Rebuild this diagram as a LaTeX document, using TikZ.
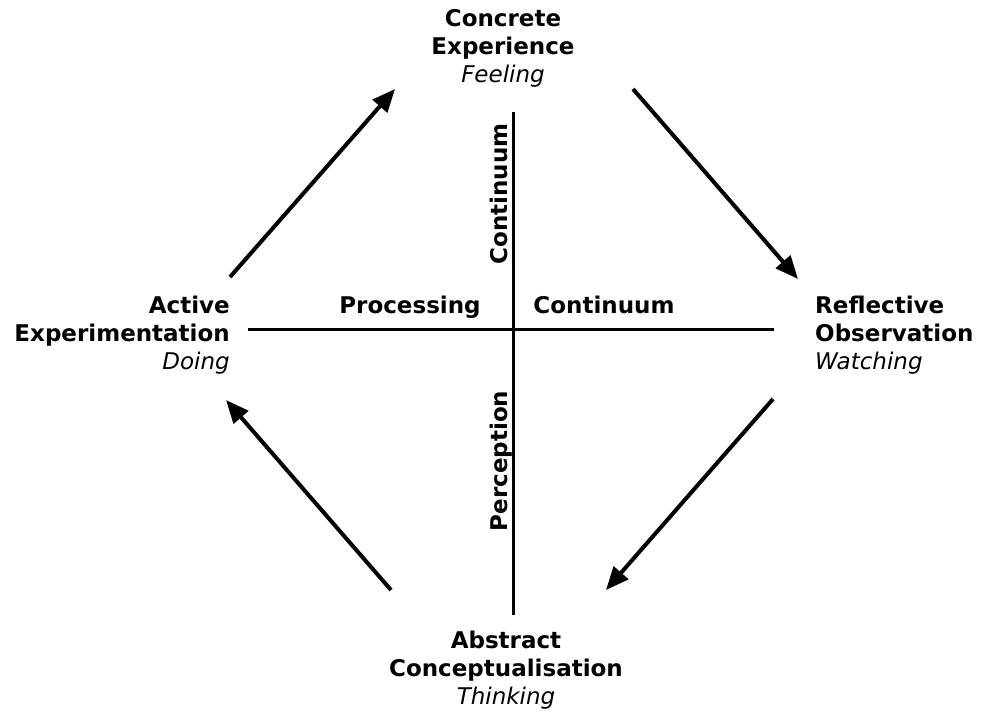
\documentclass[tikz,border=0pt]{standalone}
\usepackage{fontspec}
\setmainfont{DejaVu Sans}
\usepackage{xcolor}
\usepackage{tikz}
\usetikzlibrary{arrows.meta,positioning}
\definecolor{kolbInk}{HTML}{000000}
\tikzset{
  stage/.style={
    inner sep=0pt,
    align=center,
    text=kolbInk,
    font=\fontsize{23}{28}\selectfont
  },
  axislabel/.style={
    inner sep=0pt,
    text=kolbInk,
    font=\fontsize{23}{28}\selectfont\bfseries
  },
  axis/.style={line width=3pt, draw=kolbInk},
  cyclearrow/.style={-{Triangle[length=23pt,width=19pt]}, line width=4pt, draw=kolbInk}
}

\begin{document}
\begin{tikzpicture}[x=1pt, y=-1pt]
  \useasboundingbox (0,0) rectangle (981,713);
  % the four stages
  \node[stage, anchor=north] (ce) at (503,9) {\textbf{Concrete}\\\textbf{Experience}\\\textit{Feeling}};
  \node[stage, anchor=north west, align=left] (ro) at (815,296) {\textbf{Reflective}\\\textbf{Observation}\\\textit{Watching}};
  \node[stage, anchor=north] (ac) at (506,631) {\textbf{Abstract}\\\textbf{Conceptualisation}\\\textit{Thinking}};
  \node[stage, anchor=north east, align=right] (ae) at (230,296) {\textbf{Active}\\\textbf{Experimentation}\\\textit{Doing}};
  % the two axes
  \coordinate (vtop) at (513,112);
  \coordinate (vbot) at (513,615);
  \coordinate (hleft) at (248,329);
  \coordinate (hright) at (774,329);
  \draw[axis] (vtop) -- (vbot);
  \draw[axis] (hleft) -- (hright);
  \node[axislabel, anchor=base] (proc) at (410,313) {Processing};
  \node[axislabel, anchor=base] (pcont) at (604,313) {Continuum};
  \node[axislabel, anchor=base, rotate=90] (vcont) at (507,194) {Continuum};
  \node[axislabel, anchor=base, rotate=90] (perc) at (507,461) {Perception};
  % the learning cycle
  \coordinate (ceout) at (633,89);
  \coordinate (roin) at (798,279);
  \coordinate (roout) at (773,399);
  \coordinate (acin) at (606,590);
  \coordinate (acout) at (391,590);
  \coordinate (aein) at (226,400);
  \coordinate (aeout) at (230,277);
  \coordinate (cein) at (395,89);
  \draw[cyclearrow] (ceout) -- (roin);
  \draw[cyclearrow] (roout) -- (acin);
  \draw[cyclearrow] (acout) -- (aein);
  \draw[cyclearrow] (aeout) -- (cein);
\end{tikzpicture}
\end{document}
